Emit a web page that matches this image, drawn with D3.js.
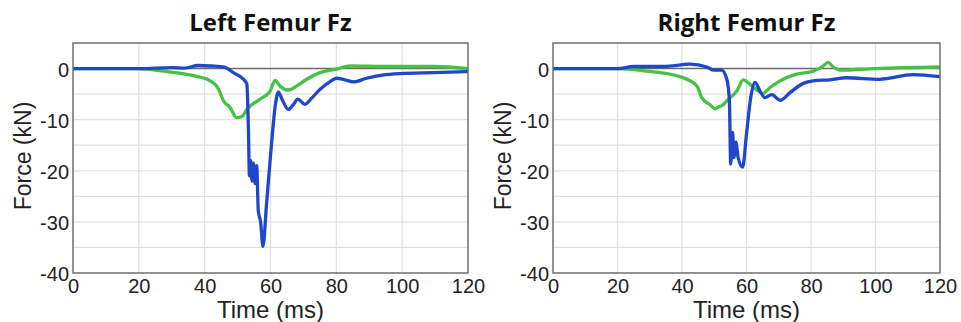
<!DOCTYPE html>
<html>
<head>
<meta charset="utf-8">
<script src="https://cdn.jsdelivr.net/npm/d3@7"></script>
<style>
  body { margin: 0; background: #fff; }
</style>
</head>
<body>
<script>
const svgWidth = 961
const svgHeight = 322

const colorBlue = "#1f47cc"
const colorGreen = "#45c145"

const timeTicks = [0, 20, 40, 60, 80, 100, 120]
const forceTicks = [0, -10, -20, -30, -40]
const forceGrid = [-5, -10, -15, -20, -25, -30, -35]

// [time ms, force kN]
const leftBlue = [
    [0, 0], [10, 0], [20, 0], [30, 0.2], [34, 0.1], [38, 0.6], [42, 0.5], [46, 0.3],
    [48.7, -0.8], [51.8, -2.1], [52.8, -3], [53.3, -12], [53.6, -21], [54, -18],
    [54.4, -22], [54.8, -18.5], [55.3, -22.5], [55.8, -19], [56.3, -27.9], [57, -30],
    [57.7, -34.8], [58.8, -26.5], [60.3, -14.8], [61.5, -7], [62.4, -4.6], [63.5, -6],
    [65.4, -8], [67, -7], [68.3, -6], [70.5, -7], [72.5, -5.8], [75, -4.1], [78, -2.6],
    [80.1, -1.9], [82.5, -2.2], [85.2, -2.6], [89.2, -1.9], [94, -1.3], [99.3, -1],
    [109.5, -0.8], [120, -0.6]
]

const leftGreen = [
    [0, 0], [10, 0], [20, 0], [28.5, -0.6], [36.6, -1.4], [41.7, -2.4], [44.2, -4],
    [45.7, -6.3], [47.7, -7.6], [49.7, -9.6], [51.3, -9.4], [52.8, -8], [56.8, -6],
    [59.9, -4.4], [61.4, -2.3], [62.9, -3.4], [65.4, -4.2], [68, -3.4], [71, -2.1],
    [75, -0.8], [80.1, -0.1], [84.2, 0.5], [95, 0.4], [110, 0.4], [120, 0]
]

const rightBlue = [
    [0, 0], [10, 0], [20, 0], [25, 0.4], [34.3, 0.4], [42.5, 0.85], [47.7, 0.3],
    [49.7, -0.3], [52.3, -0.3], [53.9, -2.1], [54.7, -6.3], [55.1, -18.7],
    [55.7, -12.5], [56.1, -17.4], [56.7, -14.4], [57.4, -17.4], [58.8, -19.3],
    [60, -12.8], [61.3, -5.7], [62.6, -2.7], [64.2, -4.4], [65.7, -5.7], [67.8, -5.1],
    [70.4, -6.2], [73.5, -4.7], [77.6, -2.9], [80.7, -2.4], [85.9, -2.2], [91, -1.8],
    [101.3, -2.1], [111.7, -1.2], [120, -1.6]
]

const rightGreen = [
    [0, 0], [10, 0], [20, 0], [29.1, -0.5], [39.4, -1.6], [44.6, -3.4], [46.1, -5.7],
    [48.7, -7.1], [50.3, -7.9], [51.3, -7.5], [52.3, -7.3], [54.4, -6], [57, -4.4],
    [59, -2.2], [61.1, -3.1], [63.7, -4.4], [65, -4.9], [67.3, -3.7], [70.4, -2.4],
    [75.5, -1.1], [80.7, -0.5], [83.8, 0.5], [85.3, 1.2], [86.9, 0.3], [89, -0.3],
    [100, 0], [120, 0.3]
]

const panels = [
    { title: "Left Femur Fz", left: 73, right: 468, blue: leftBlue, green: leftGreen },
    { title: "Right Femur Fz", left: 553, right: 940, blue: rightBlue, green: rightGreen }
]

const plotTop = 43
const plotBottom = 273

const svg = d3.select("body").append("svg")
    .attr("width", svgWidth)
    .attr("height", svgHeight)

panels.forEach(p => {
    const x = d3.scaleLinear().domain([0, 120]).range([p.left, p.right])
    const y = d3.scaleLinear().domain([-40, 5]).range([plotBottom, plotTop])

    const g = svg.append("g")

    // grid
    g.selectAll(".hgrid").data(forceGrid).join("line")
        .attr("x1", p.left).attr("x2", p.right)
        .attr("y1", d => y(d)).attr("y2", d => y(d))
        .attr("stroke", "#e0e0e0").attr("stroke-width", 1.2)

    g.selectAll(".vgrid").data(timeTicks.slice(1, -1)).join("line")
        .attr("x1", d => x(d)).attr("x2", d => x(d))
        .attr("y1", plotTop).attr("y2", plotBottom)
        .attr("stroke", "#e0e0e0").attr("stroke-width", 1.2)

    // zero line
    g.append("line")
        .attr("x1", p.left).attr("x2", p.right)
        .attr("y1", y(0)).attr("y2", y(0))
        .attr("stroke", "#6a6a6a").attr("stroke-width", 1.5)

    const line = d3.line()
        .x(d => x(d[0]))
        .y(d => y(d[1]))
        .curve(d3.curveMonotoneX)

    g.append("path")
        .attr("d", line(p.green))
        .attr("fill", "none")
        .attr("stroke", colorGreen)
        .attr("stroke-width", 3.3)
        .attr("stroke-linejoin", "round")

    g.append("path")
        .attr("d", line(p.blue))
        .attr("fill", "none")
        .attr("stroke", colorBlue)
        .attr("stroke-width", 3.3)
        .attr("stroke-linejoin", "round")

    // frame
    g.append("rect")
        .attr("x", p.left).attr("y", plotTop)
        .attr("width", p.right - p.left).attr("height", plotBottom - plotTop)
        .attr("fill", "none")
        .attr("stroke", "#6f6f6f").attr("stroke-width", 1.5)

    // axes
    const xAxis = g.append("g")
        .attr("transform", `translate(0, ${plotBottom})`)
        .call(d3.axisBottom(x).tickValues(timeTicks).tickSize(0).tickPadding(6)
            .tickFormat(d => String(d)))
    const yAxis = g.append("g")
        .attr("transform", `translate(${p.left}, 0)`)
        .call(d3.axisLeft(y).tickValues(forceTicks).tickSize(0).tickPadding(4)
            .tickFormat(d => String(d)))

    ;[xAxis, yAxis].forEach(a => {
        a.select(".domain").remove()
        a.selectAll("text")
            .attr("font-family", "Liberation Sans, Arial, sans-serif")
            .attr("font-size", 20)
            .attr("fill", "#222")
    })
    yAxis.selectAll("text").attr("dy", "0.38em")
    xAxis.selectAll("text").attr("dy", "0.72em")

    // titles
    svg.append("text")
        .attr("x", (p.left + p.right) / 2)
        .attr("y", 31)
        .attr("text-anchor", "middle")
        .attr("font-family", "Open Sans, sans-serif")
        .attr("font-weight", "bold")
        .attr("font-size", 24)
        .attr("fill", "#111")
        .text(p.title)

    svg.append("text")
        .attr("x", (p.left + p.right) / 2)
        .attr("y", 318)
        .attr("text-anchor", "middle")
        .attr("font-family", "Liberation Sans, Arial, sans-serif")
        .attr("font-size", 24)
        .attr("fill", "#222")
        .text("Time (ms)")

    svg.append("text")
        .attr("transform", `translate(${p.left - 42}, ${(plotTop + plotBottom) / 2 - 2}) rotate(-90)`)
        .attr("text-anchor", "middle")
        .attr("font-family", "Liberation Sans, Arial, sans-serif")
        .attr("font-size", 23)
        .attr("fill", "#222")
        .text("Force (kN)")
})
</script>
</body>
</html>
